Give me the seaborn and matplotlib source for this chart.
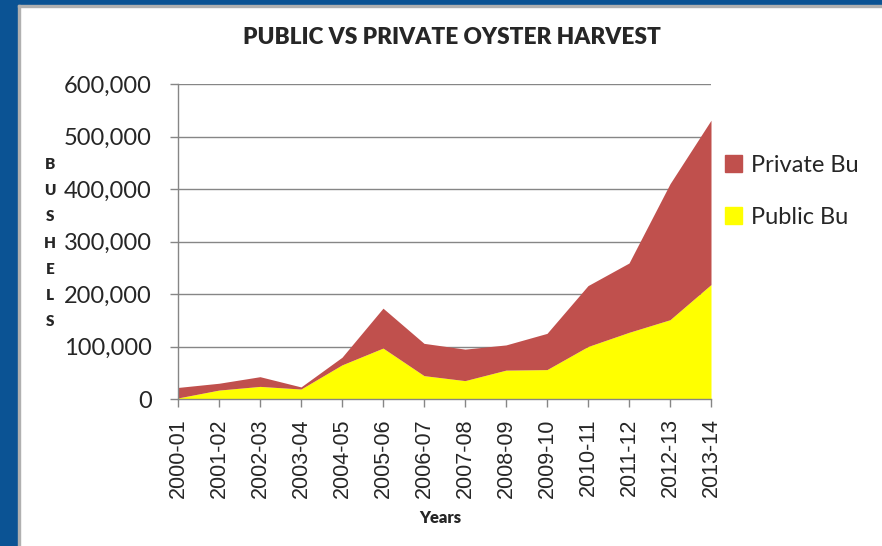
import seaborn as sns
import matplotlib.pyplot as plt
import pandas as pd
from matplotlib import font_manager
from matplotlib.patches import Patch, Rectangle
from matplotlib.ticker import FuncFormatter

# -- DATA -- #
seasons = ['2000-01', '2001-02', '2002-03', '2003-04', '2004-05', '2005-06', '2006-07',
           '2007-08', '2008-09', '2009-10', '2010-11', '2011-12', '2012-13', '2013-14']
public_bu = [2000, 17000, 24000, 19000, 65000, 97000, 44500,
             35000, 55000, 56000, 100000, 127000, 151000, 218000]
private_bu = [20000, 13000, 18500, 4000, 14500, 76000, 61500,
              60000, 48000, 69000, 116000, 132000, 259000, 313000]
y_ticks = [0, 100000, 200000, 300000, 400000, 500000, 600000]

# -- STYLE -- #
sns.set_style('white')
names = {f.name for f in font_manager.fontManager.ttflist}
if 'Liberation Sans Narrow' in names:
    main_font, k = 'Liberation Sans Narrow', 1.2
else:
    main_font, k = 'Lato', 1.0
plt.rcParams['font.family'] = [main_font, 'DejaVu Sans']

RED = '#C0504D'
YELLOW = '#FFFF00'
GRID = '#868686'

df = pd.DataFrame({'season': seasons, 'Public Bu': public_bu, 'Private Bu': private_bu})

fig = plt.figure(figsize=(8.82, 5.46), dpi=100)
W, H = 882, 546

# blue slide frame
fig.patches.append(Rectangle((0, 0), 18 / W, 1, transform=fig.transFigure, color='#0B5394', zorder=0))
fig.patches.append(Rectangle((0, 1 - 5 / H), 1, 5 / H, transform=fig.transFigure, color='#0B5394', zorder=0))
fig.patches.append(Rectangle((18 / W, 0), 2 / W, 1 - 5 / H, transform=fig.transFigure, color='#B0B0B0', zorder=0))
fig.patches.append(Rectangle((18 / W, 1 - 6.5 / H), 1, 1.5 / H, transform=fig.transFigure, color='#B0B0B0', zorder=0))

ax = fig.add_axes([178 / W, 1 - 399 / H, (711 - 178) / W, (399 - 84) / H])
x = list(range(len(df)))
ax.stackplot(x, df['Public Bu'], df['Private Bu'], colors=[YELLOW, RED],
             labels=['Public Bu', 'Private Bu'], linewidth=0)

ax.set_xlim(0, len(df) - 1)
ax.set_ylim(0, 600000)
ax.set_yticks(y_ticks)
ax.yaxis.set_major_formatter(FuncFormatter(lambda v, p: f'{int(v):,}'))
ax.set_xticks(x)
ax.set_xticklabels(df['season'], rotation=90, fontfamily='Liberation Sans', fontsize=15.5)

ax.set_axisbelow(True)
ax.yaxis.grid(True, color=GRID, linewidth=1.0)
ax.xaxis.grid(False)
sns.despine(ax=ax)
for s in ['left', 'bottom']:
    ax.spines[s].set_color(GRID)
    ax.spines[s].set_linewidth(1.0)

ax.tick_params(axis='y', direction='out', length=5.5, width=1, color=GRID,
               labelsize=17 * k, pad=13.5, left=True)
ax.tick_params(axis='x', direction='out', length=6, width=1, color=GRID,
               pad=8, bottom=True)

# titles / labels
fig.text(452 / W, 1 - 38 / H, 'PUBLIC VS PRIVATE OYSTER HARVEST', ha='center', va='center',
         fontsize=16.3 * k, fontweight='heavy')
fig.text(440 / W, 1 - 518 / H, 'Years', ha='center', va='center',
         fontsize=12 * k, fontweight='heavy')
fig.text(50 / W, 1 - 243 / H, '\n'.join('BUSHELS'), ha='center', va='center',
         fontsize=11 * k, fontweight='heavy', linespacing=2.2 / k)

# legend
handles = [Patch(color=RED, label='Private Bu'), Patch(color=YELLOW, label='Public Bu')]
fig.legend(handles=handles, loc='upper left', bbox_to_anchor=(725 / W, 1 - 155 / H),
           frameon=False, fontsize=17 * k, borderpad=0, borderaxespad=0,
           handlelength=0.7, handleheight=0.7, handletextpad=0.4, labelspacing=1.3)

fig.savefig('out.png', dpi=100)
